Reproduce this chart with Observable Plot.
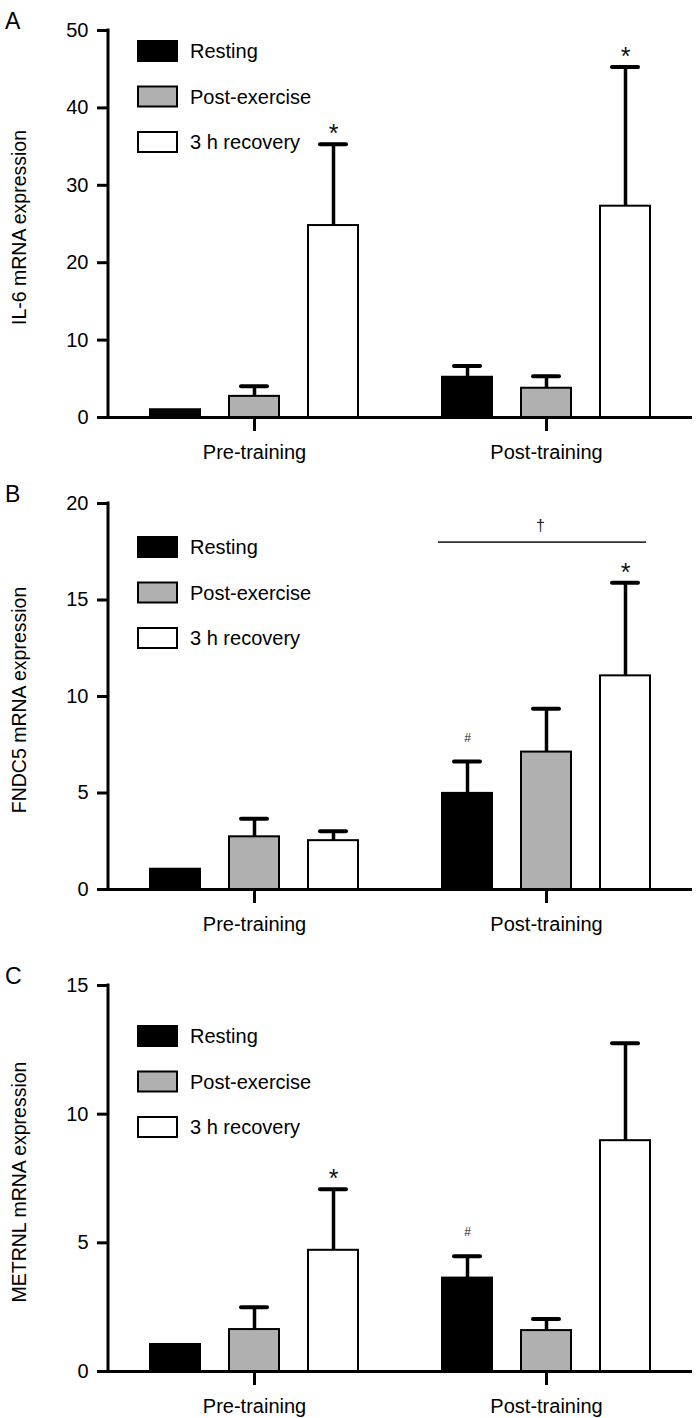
<!DOCTYPE html>
<html><head><meta charset="utf-8">
<script src="https://cdn.jsdelivr.net/npm/d3@7"></script>
<script src="https://cdn.jsdelivr.net/npm/@observablehq/plot@0.6"></script>
<style>
body{margin:0;background:#fff;}
#root{width:699px;font-family:"Liberation Sans",Arial,sans-serif;}
#root svg{display:block;}
</style></head><body><div id="root"></div>
<script>
const groups = ["Pre-training", "Post-training"];
const conditions = ["Resting", "Post-exercise", "3 h recovery"];
const colors = ["#000000", "#b0b0b0", "#ffffff"];

// order: Pre (Resting, Post-exercise, 3 h), Post (Resting, Post-exercise, 3 h)
const il6Mean = [1.0, 2.73, 24.8, 5.2, 3.78, 27.3];
const il6Err = [0, 1.3, 10.5, 1.45, 1.55, 18.0];
const il6Star = ["", "", "*", "", "", "*"];
const il6Hash = ["", "", "", "", "", ""];
const il6Ticks = [0, 10, 20, 30, 40, 50];

const fndc5Mean = [1.05, 2.73, 2.53, 4.98, 7.12, 11.07];
const fndc5Err = [0, 0.93, 0.49, 1.65, 2.25, 4.83];
const fndc5Star = ["", "", "", "", "", "*"];
const fndc5Hash = ["", "", "", "#", "", ""];
const fndc5Ticks = [0, 5, 10, 15, 20];

const metrnlMean = [1.05, 1.63, 4.71, 3.63, 1.59, 8.97];
const metrnlErr = [0, 0.87, 2.37, 0.85, 0.45, 3.79];
const metrnlStar = ["", "", "*", "", "", ""];
const metrnlHash = ["", "", "", "#", "", ""];
const metrnlTicks = [0, 5, 10, 15];

const font = '"Liberation Sans", Arial, sans-serif';

function panel(o) {
  const rows = o.mean.map((m, i) => ({
    group: groups[Math.floor(i / 3)], cond: conditions[i % 3],
    mean: m, err: o.err[i], top: m + o.err[i], star: o.star[i], hash: o.hash[i]
  }));
  const errRows = rows.filter(d => d.err > 0);
  const marks = [
    Plot.barY(rows, {fx: "group", x: "cond", y: "mean", fill: "cond", stroke: "#000", strokeWidth: 2}),
    Plot.ruleX(errRows, {fx: "group", x: "cond", y1: "mean", y2: "top", stroke: "#000", strokeWidth: 3.5}),
    Plot.tickY(errRows, {fx: "group", x: "cond", y: "top", stroke: "#000", strokeWidth: 4, strokeLinecap: "round", insetLeft: 12, insetRight: 12}),
    Plot.ruleY([0], {stroke: "#000", strokeWidth: 3}),
    Plot.axisY({ticks: o.ticks, tickSize: 11, tickPadding: 9, strokeWidth: 3, label: null, tickFormat: d => d}),
    Plot.axisFx({anchor: "bottom", tickSize: 14, tickPadding: 13, strokeWidth: 3, label: null}),
    Plot.text(rows.filter(d => d.star), {fx: "group", x: "cond", y: "top", text: "star", lineAnchor: "bottom", dy: -2, fontSize: 25, fill: "#111"}),
    Plot.text(rows.filter(d => d.hash), {fx: "group", x: "cond", y: "top", text: "hash", lineAnchor: "bottom", dy: -20, fontSize: 12, fill: "#222"})
  ];
  if (o.bracket) {
    marks.push(Plot.ruleY([o.bracket], {fx: "group", y: "y", x1: "from", x2: "to", stroke: "#333", strokeWidth: 1.6, dx: -4}));
    marks.push(Plot.text([o.bracket], {fx: "group", y: "y", x: "mid", text: "label", lineAnchor: "bottom", dy: -11, dx: -6, fontSize: 16, fill: "#222"}));
  }
  const chart = Plot.plot({
    width: 699, height: o.height,
    marginLeft: 108, marginRight: 7, marginTop: 30, marginBottom: o.marginBottom,
    style: {fontFamily: font, fontSize: "20px", color: "#000", background: "#fff"},
    fx: {domain: groups, padding: 0, label: null},
    x: {domain: conditions, paddingInner: 0.373, paddingOuter: 0.517, axis: null},
    y: {domain: [0, o.ticks[o.ticks.length - 1]], axis: null},
    color: {domain: conditions, range: colors},
    marks
  });
  const svg = d3.select(chart);
  const y = chart.scale("y");
  const ymax = o.ticks[o.ticks.length - 1];
  svg.append("line").attr("x1", 108).attr("x2", 108)
    .attr("y1", y.apply(ymax) - 1.5).attr("y2", y.apply(0) + 1.5)
    .attr("stroke", "#000").attr("stroke-width", 3);
  const y0 = y.apply(0), y1 = y.apply(ymax);
  svg.append("text").attr("transform", `translate(19,${(y0 + y1) / 2 + 4}) rotate(-90)`)
    .attr("text-anchor", "middle").attr("dy", "0.35em")
    .attr("font-family", font).attr("font-size", 19.5).attr("fill", "#000").text(o.label);
  svg.append("text").attr("x", 5).attr("y", 29).attr("text-anchor", "start").attr("font-family", font)
    .attr("font-size", 23).attr("fill", "#000").text(o.letter);
  const lg = svg.append("g").attr("text-anchor", "start");
  conditions.forEach((c, i) => {
    const top = o.legendTop + i * 45.5;
    lg.append("rect").attr("x", 138).attr("y", top).attr("width", 39).attr("height", 20)
      .attr("fill", colors[i]).attr("stroke", "#000").attr("stroke-width", 2);
    lg.append("text").attr("x", 190).attr("y", top + 10).attr("dy", "0.35em").attr("text-anchor", "start")
      .attr("font-family", font).attr("font-size", 20).attr("fill", "#000").text(c);
  });
  return chart;
}

const root = document.getElementById("root");
root.appendChild(panel({letter: "A", label: "IL-6 mRNA expression", mean: il6Mean, err: il6Err, star: il6Star, hash: il6Hash, ticks: il6Ticks, height: 473, marginBottom: 56, legendTop: 41}));
root.appendChild(panel({letter: "B", label: "FNDC5 mRNA expression", mean: fndc5Mean, err: fndc5Err, star: fndc5Star, hash: fndc5Hash, ticks: fndc5Ticks, height: 482, marginBottom: 66, legendTop: 64,
  bracket: {group: "Post-training", y: 18, from: "Resting", to: "3 h recovery", mid: "Post-exercise", label: "†"}}));
root.appendChild(panel({letter: "C", label: "METRNL mRNA expression", mean: metrnlMean, err: metrnlErr, star: metrnlStar, hash: metrnlHash, ticks: metrnlTicks, height: 463, marginBottom: 47, legendTop: 71}));
</script></body></html>
